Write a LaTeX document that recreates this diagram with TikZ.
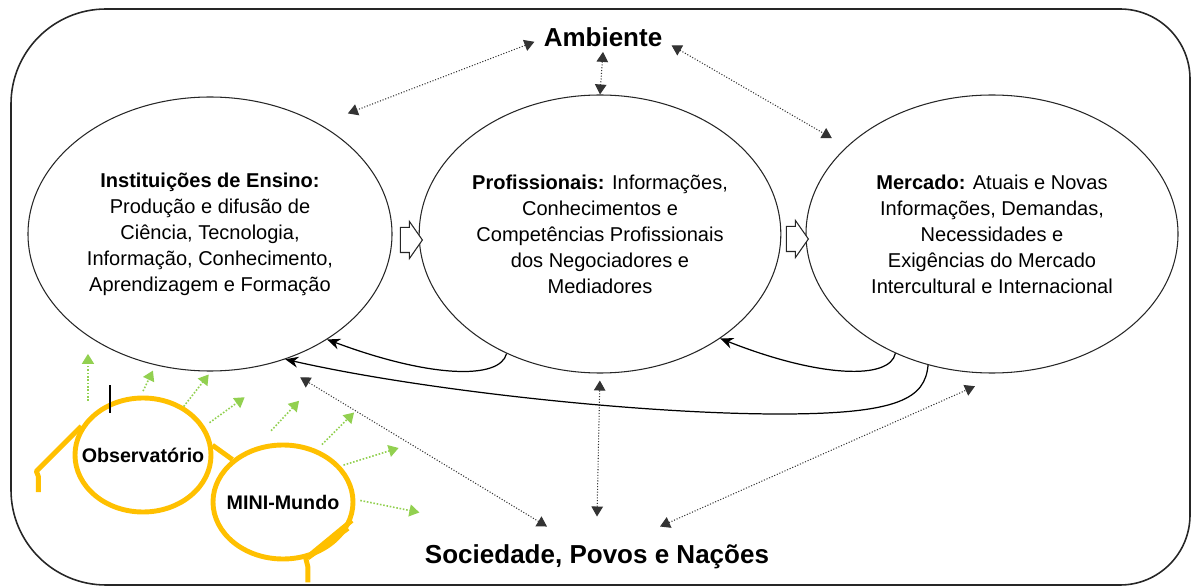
\documentclass[tikz,border=0pt]{standalone}
\usepackage{fontspec}
\setmainfont{Liberation Sans}
\usepackage{xcolor}
\usepackage{tikz}
\usetikzlibrary{arrows.meta,shapes.geometric,shapes.arrows}

\definecolor{lensgold}{RGB}{255,192,0}
\definecolor{raygreen}{RGB}{146,208,80}

\tikzset{
  bubble/.style={ellipse, draw=black!85, line width=0.6pt, inner sep=0pt, align=center,
    font=\fontsize{11.4}{14.8}\selectfont},
  bigtext/.style={font=\fontsize{14.8}{17}\selectfont\bfseries},
  link/.style={densely dotted, line width=0.6pt, black!80,
    {Triangle[length=2mm,width=2.3mm]}-{Triangle[length=2mm,width=2.3mm]}},
  back/.style={line width=0.7pt, -{Stealth[length=2.6mm,width=2.2mm]}},
  hollow/.style={single arrow, draw=black!85, line width=0.6pt, fill=white,
    minimum height=0.44cm, inner xsep=0pt, inner ysep=0.24cm,
    single arrow head extend=0.12cm, single arrow tip angle=110},
  lens/.style={ellipse, draw=lensgold, line width=2.8pt, inner sep=0pt,
    font=\fontsize{11.2}{13}\selectfont\bfseries},
  glassframe/.style={lensgold, line width=2.8pt, line join=round},
  ray/.style={raygreen, densely dotted, line width=0.9pt, -{Triangle[length=2mm,width=2.4mm]}}
}

\begin{document}
\begin{tikzpicture}[x=0.2mm, y=-0.2mm]
	\useasboundingbox (0,0) rectangle (1192,587);
	
	% outer frame
	\draw[black!85, line width=0.9pt] (11,300) [rounded corners=1.9cm] |- (600,9)
		[rounded corners=1.4cm] -| (1190,300) |- (600,585)
		[rounded corners=1.9cm] -| (11,300);
	
	% the three ellipses
	\node[bubble, minimum width=7.28cm, minimum height=5.48cm] (inst) at (210,234)
		{\textbf{Instituições de Ensino:}\\Produção e difusão de\\Ciência, Tecnologia,\\Informação, Conhecimento,\\Aprendizagem e Formação};
	\node[bubble, minimum width=7.2cm, minimum height=5.56cm] (prof) at (600,234)
		{\textbf{Profissionais:} Informações,\\Conhecimentos e\\Competências Profissionais\\dos Negociadores e\\Mediadores};
	\node[bubble, minimum width=7.44cm, minimum height=5.56cm] (mer) at (992,234)
		{\textbf{Mercado:} Atuais e Novas\\Informações, Demandas,\\Necessidades e\\Exigências do Mercado\\Intercultural e Internacional};
	
	\node[hollow] (ar1) at (407,240) {};
	\node[hollow] (ar2) at (793,239) {};
	
	\node[bigtext, inner xsep=0.18cm, inner ysep=0.1cm] (amb) at (603,37) {Ambiente};
	\node[bigtext, inner xsep=0pt, inner ysep=0.36cm] (soc) at (597,557) {Sociedade, Povos e Nações};
	
	% Ambiente
	\draw[link, shorten >=0.6cm] (amb.184) -- (inst.45);
	\draw[link] (amb.south) -- (prof.north);
	\draw[link, shorten >=0.34cm] (amb.-7) -- (mer.149);
	
	% Sociedade
	\draw[link, shorten >=0.58cm] ([xshift=-1cm]soc.north) -- (inst.297);
	\draw[link, shorten >=0.14cm] ([yshift=0.2cm]soc.north) -- (prof.south);
	\draw[link, shorten >=0.64cm] ([xshift=1.26cm]soc.north) -- (mer.275);
	
	% feedback
	\draw[back] (prof.232) .. controls (500,380) and (430,378) .. (inst.318);
	\draw[back] (mer.231) .. controls (890,380) and (820,378) .. (prof.319);
	\draw[back] (mer.244) .. controls (925,398) and (900,414) .. (780,414)
		.. controls (640,414) and (420,390) .. (inst.301);
	
	% glasses
	\node[lens, minimum width=2.72cm, minimum height=2.28cm] (obs) at (143,455) {\makebox[0pt]{Observatório}};
	\node[lens, minimum width=2.8cm, minimum height=2.28cm] (mini) at (283,502) {\makebox[0pt]{MINI-Mundo}};
	\draw[glassframe] (obs.8) -- (mini.140);
	\draw[glassframe] (obs.155) -- ++(-45,45) -- ++(2,5) -- ++(0,16);
	\draw[glassframe] (mini.345) -- (mini.292) -- ++(2,8) -- ++(0,16);
	\draw[glassframe] (mini.338) -- (mini.294);
	\draw[line width=0.6pt] (110,385) -- (110,413);
	
	\foreach \lens/\ang/\dx/\dy/\gap in {obs/146/0/-64/0.34cm, obs/92/12/-25/0.1cm, obs/50/25/-32/0cm,
		obs/25/40/-29/0.12cm, mini/116/43/-46/0.44cm, mini/57/37/-37/0.14cm,
		mini/32/58/-18/0.06cm, mini/2/64/13/0.1cm}{
		\draw[ray, shorten <=\gap] (\lens.\ang) -- ++(\dx,\dy);
	}
\end{tikzpicture}
\end{document}
